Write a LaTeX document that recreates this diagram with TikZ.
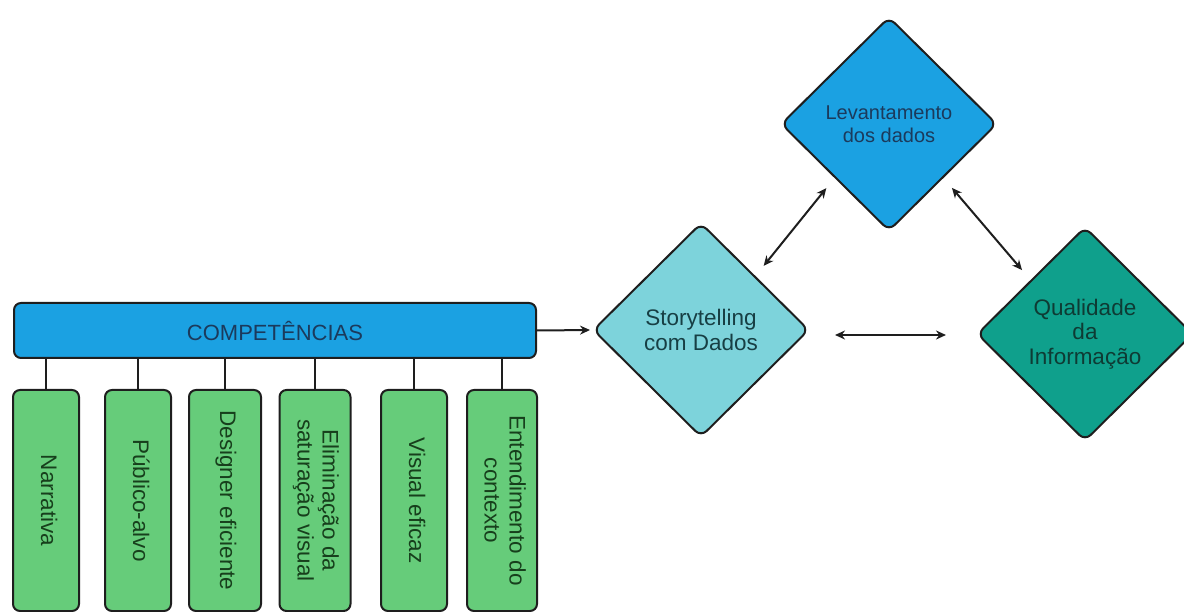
\documentclass[tikz,border=0pt]{standalone}
\usepackage{fontspec}
\setmainfont{Liberation Sans}
\usepackage{graphicx}
\usepackage{tikz}
\usetikzlibrary{arrows.meta, shapes.geometric, calc}
\definecolor{barBlue}{HTML}{1BA1E2}
\definecolor{skillGreen}{HTML}{66CC7A}
\definecolor{storyTeal}{HTML}{7DD3DB}
\definecolor{qualTeal}{HTML}{0FA08C}
\definecolor{inkNavy}{HTML}{1B3A5C}
\definecolor{inkGreen}{HTML}{173F1C}
\definecolor{inkTeal}{HTML}{173F44}
\definecolor{inkDeep}{HTML}{0E3B34}
\definecolor{edgeGray}{HTML}{1E1E1E}
\newcommand{\VertLabel}[1]{\rotatebox{-90}{\begin{tabular}{@{}c@{}}#1\end{tabular}}}

\begin{document}
\begin{tikzpicture}[x=1pt, y=-1pt, line cap=round,
	bar/.style={draw=edgeGray, line width=2pt, rounded corners=7pt, fill=barBlue, text=inkNavy, minimum width=522pt, minimum height=55pt, font=\fontsize{22}{25}\selectfont},
	skill/.style={draw=edgeGray, line width=2pt, rounded corners=7pt, fill=skillGreen, text=inkGreen, minimum height=221pt, inner sep=0pt, font=\fontsize{22.5}{25}\selectfont},
	topic/.style={diamond, draw=edgeGray, line width=2pt, rounded corners=8pt, minimum width=216pt, minimum height=214pt, inner sep=0pt, align=center, font=\fontsize{22.5}{24.5}\selectfont},
	link/.style={edgeGray, line width=2pt},
	flow/.style={link, -{Stealth[length=10pt,width=9pt]}, shorten >=2pt},
	both/.style={link, {Stealth[length=10pt,width=9pt]}-{Stealth[length=10pt,width=9pt]}, shorten <=13pt, shorten >=13pt}
	]

	\useasboundingbox (0,0) rectangle (1184,612);

	\node[bar] (comp) at (275,330.5) {COMPETÊNCIAS};

	\foreach \cx/\w/\txt [count=\i] in {46/66/{Narrativa}, 138/66/{Público-alvo}, 225/72/{Designer eficiente}, 315/71/{Eliminação da\\saturação visual}, 414/66/{Visual eficaz}, 502/70/{Entendimento do\\contexto}}
	{
		\node[skill, minimum width=\w pt] (skill\i) at (\cx,500.5) {\VertLabel{\txt}};
		\draw[link] (skill\i.north) -- (skill\i.north |- comp.south);
	}

	\node[topic, fill=barBlue, text=inkNavy, font=\fontsize{20}{23}\selectfont] (lev) at (889,124) {Levantamento\\dos dados};
	\node[topic, fill=storyTeal, text=inkTeal] (story) at (701,330) {Storytelling\\com Dados};
	\node[topic, fill=qualTeal, text=inkDeep] (qual) at (1085,334) {Qualidade\\da\\Informação};

	\draw[flow] (comp.east) -- (story.west);
	\draw[both] (story.north east) -- (lev.south west);
	\draw[both] (lev.south east) -- (qual.north west);
	\draw[both, shorten <=25pt, shorten >=30pt] ([yshift=-5pt]story.east) -- ([yshift=-1pt]qual.west);

\end{tikzpicture}
\end{document}
